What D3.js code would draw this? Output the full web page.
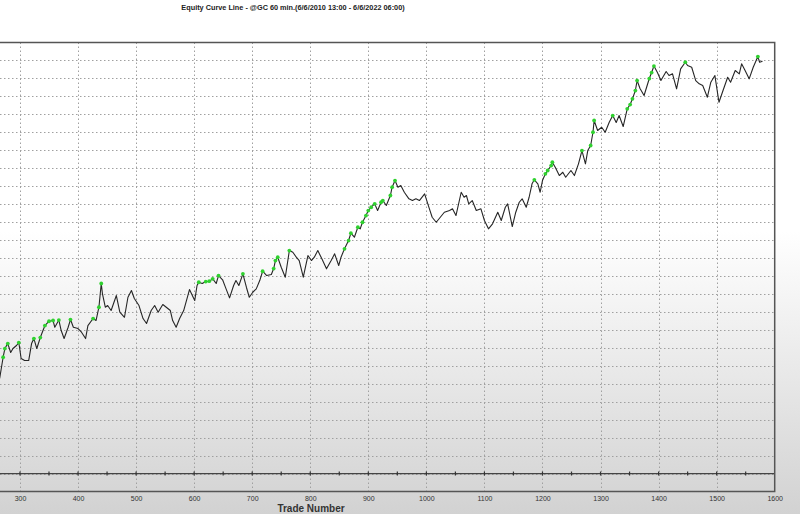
<!DOCTYPE html>
<html>
<head>
<meta charset="utf-8">
<script src="https://cdn.jsdelivr.net/npm/d3@7"></script>
<style>
    body { margin: 0; overflow: hidden; }
    text { font-family: "Liberation Sans", Arial, sans-serif; }
</style>
</head>
<body>
<div id="chart"></div>
<script>
// Trade numbers and closed equity ($)
var trades = [265,271,274,279,284,288,294,298,302,308,315,320,324,329,335,343,350,357,360,367,371,376,383,387,392,400,406,413,417,426,431,436,440,442,447,451,457,466,472,480,486,492,497,505,512,518,526,532,538,546,552,559,563,569,575,582,592,601,605,608,614,620,626,632,638,642,649,655,661,668,672,677,684,690,695,701,707,713,718,725,733,737,740,744,750,757,764,770,776,781,788,796,802,807,813,820,828,836,842,849,853,859,866,870,876,882,886,890,896,900,905,911,916,922,925,931,938,941,946,951,956,962,970,976,982,988,997,1004,1010,1017,1024,1031,1040,1045,1051,1060,1065,1069,1073,1079,1086,1094,1100,1107,1114,1123,1129,1136,1140,1148,1154,1160,1165,1172,1177,1182,1186,1192,1196,1200,1205,1209,1215,1217,1222,1229,1235,1240,1249,1255,1262,1268,1274,1278,1283,1287,1289,1295,1302,1308,1315,1321,1327,1332,1339,1346,1351,1355,1360,1363,1368,1375,1384,1388,1392,1398,1404,1413,1418,1424,1431,1438,1446,1450,1457,1464,1470,1476,1484,1490,1497,1504,1511,1519,1524,1532,1539,1543,1549,1556,1563,1566,1571,1574,1579];

var equity = [26450,32380,34800,36190,33690,34800,35640,36470,32020,31460,31460,36190,37580,34800,37860,41200,42400,42600,40730,42730,39810,37580,40730,42870,40730,40370,39340,37580,41200,43150,42600,46300,52900,50110,46300,46770,45380,49560,44910,43510,49080,50950,48720,46770,43150,41760,45380,46770,44910,47050,46300,45380,42600,40730,43150,45380,51230,48160,52340,53260,52900,53450,53540,54200,52900,55120,53930,51420,48910,52340,53730,52340,55600,51870,49080,50470,51420,53730,56320,55120,55400,57070,59300,60220,57430,54650,62080,61610,60220,59300,54650,60690,59300,60220,62080,59770,56990,59300,61160,57910,60220,62560,64870,66900,65790,68570,68120,69960,71830,73220,74140,75080,73220,75530,76000,74610,77400,79710,81570,79710,80180,78310,76480,76000,76480,76000,77870,74330,71350,69960,71350,72750,73220,73690,71830,78310,76920,77400,75080,76000,73220,73690,70440,68120,69520,72750,70440,74140,75080,68770,72750,75530,76480,74140,76920,80650,81770,80650,78310,81570,83440,84360,85750,86670,85270,82960,83880,82490,84360,82960,86220,89920,86220,89920,91320,95020,98280,95490,96410,95020,97800,99670,97720,99670,96600,101530,102730,104320,106630,109410,107180,105240,109970,111640,113450,111640,109410,111920,110800,111280,107100,112670,114510,113590,113110,109410,108490,108020,104760,108940,110800,103370,106630,110330,108940,112200,111280,114060,112200,109880,113110,114230,116090,114510,114780];

var xTicks = [300,400,500,600,700,800,900,1000,1100,1200,1300,1400,1500,1600];
var minorTicks = d3.range(300, 1600, 50);
var yGrid = d3.range(0, 120000, 5000);

var chartTitle = "Equity Curve Line - @GC 60 min.(6/6/2010 13:00 - 6/6/2022 06:00)";
var xTitle = "Trade Number";

var width = 800,
    height = 514;

var svg = d3.select("#chart")
    .append("svg")
    .attr("width", width)
    .attr("height", height);

// page background: white fading to grey at the bottom
var defs = svg.append("defs");
var grad = defs.append("linearGradient")
    .attr("id", "bg")
    .attr("x1", 0).attr("y1", 0).attr("x2", 0).attr("y2", 1);
grad.append("stop").attr("offset", "0%").attr("stop-color", "#ffffff");
grad.append("stop").attr("offset", "45%").attr("stop-color", "#ffffff");
grad.append("stop").attr("offset", "100%").attr("stop-color", "#d2d2d2");

svg.append("rect")
    .attr("width", width)
    .attr("height", height)
    .style("fill", "url(#bg)");

// scales (plot runs off the left edge of the window)
var x = d3.scaleLinear().domain([0, 1600]).range([-154.2, 774.7]);
var y = d3.scaleLinear().domain([-5000, 120000]).range([491.5, 42.5]);

var plotTop = y(120000), plotBottom = y(-5000), plotRight = x(1600);

defs.append("clipPath")
    .attr("id", "plotClip")
    .append("rect")
    .attr("x", 0)
    .attr("y", plotTop)
    .attr("width", plotRight)
    .attr("height", plotBottom - plotTop);

// dotted grid
svg.append("g")
    .selectAll("line")
    .data(yGrid)
    .enter()
    .append("line")
    .attr("x1", 0)
    .attr("x2", plotRight)
    .attr("y1", d => Math.round(y(d)) + 0.5)
    .attr("y2", d => Math.round(y(d)) + 0.5)
    .style("stroke", "#a0a0a0")
    .style("stroke-width", 1)
    .style("stroke-dasharray", "1.5,2.5");

svg.append("g")
    .selectAll("line")
    .data(xTicks.slice(0, -1))
    .enter()
    .append("line")
    .attr("x1", d => Math.round(x(d)) + 0.5)
    .attr("x2", d => Math.round(x(d)) + 0.5)
    .attr("y1", plotTop)
    .attr("y2", plotBottom)
    .style("stroke", "#a0a0a0")
    .style("stroke-width", 1)
    .style("stroke-dasharray", "1.5,2.5");

// zero line with small tick marks every 50 trades
svg.append("line")
    .attr("x1", 0)
    .attr("x2", plotRight)
    .attr("y1", y(0))
    .attr("y2", y(0))
    .style("stroke", "#444")
    .style("stroke-width", 1.3);

svg.append("g")
    .selectAll("line")
    .data(minorTicks)
    .enter()
    .append("line")
    .attr("x1", d => x(d))
    .attr("x2", d => x(d))
    .attr("y1", y(0) - 2)
    .attr("y2", y(0) + 2)
    .style("stroke", "#333")
    .style("stroke-width", 1.2);

// frame (left side is outside the window)
svg.append("path")
    .attr("d", "M0," + plotTop + "H" + plotRight + "V" + plotBottom + "H0")
    .style("fill", "none")
    .style("stroke", "#555")
    .style("stroke-width", 1.5);

// x tick labels
var xAxis = d3.axisBottom(x)
    .tickValues(xTicks)
    .tickFormat(d3.format("d"))
    .tickSize(0)
    .tickPadding(5);

var axisG = svg.append("g")
    .attr("transform", "translate(0," + plotBottom + ")")
    .call(xAxis);
axisG.select(".domain").remove();
axisG.selectAll("text")
    .style("font-family", "Liberation Sans, Arial, sans-serif")
    .style("font-size", "7px")
    .style("fill", "#333");

// equity line
var line = d3.line()
    .x((d, i) => x(trades[i]))
    .y(d => y(d));

var plot = svg.append("g").attr("clip-path", "url(#plotClip)");

plot.append("path")
    .datum(equity)
    .attr("d", line)
    .style("fill", "none")
    .style("stroke", "#262626")
    .style("stroke-width", 1.1)
    .style("stroke-linejoin", "round");

// green markers on new equity highs
var highs = [];
var runMax = equity[0];
equity.forEach(function (v, i) {
    if (i > 0 && v > runMax) highs.push(i);
    runMax = Math.max(runMax, v);
});

plot.selectAll(".high")
    .data(highs)
    .enter()
    .append("circle")
    .attr("class", "high")
    .attr("cx", i => x(trades[i]))
    .attr("cy", i => y(equity[i]))
    .attr("r", 1.9)
    .style("fill", "#2fd12f");

// titles
svg.append("text")
    .attr("x", 293)
    .attr("y", 10)
    .attr("text-anchor", "middle")
    .style("font-size", "7.3px")
    .style("font-weight", "bold")
    .style("fill", "#222")
    .text(chartTitle);

svg.append("text")
    .attr("x", 311)
    .attr("y", 512)
    .attr("text-anchor", "middle")
    .style("font-size", "10px")
    .style("font-weight", "bold")
    .style("fill", "#333")
    .text(xTitle);
</script>
</body>
</html>
